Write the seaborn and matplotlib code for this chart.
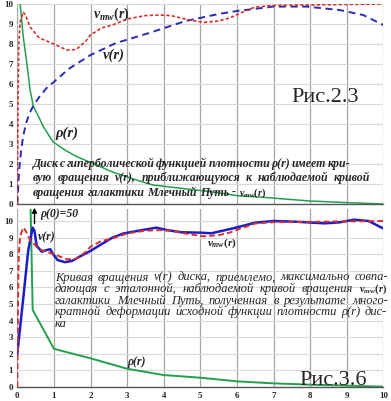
import numpy as np
import matplotlib
matplotlib.use("Agg")
import matplotlib.pyplot as plt
import seaborn as sns

# observed Milky Way rotation curve v_mw(r) (same reference curve in both panels)
r_mw = [0, 0.02, 0.04, 0.08, 0.16, 0.22, 0.35, 0.6, 1.0, 1.35, 1.6, 1.85, 2.0, 2.3,
        2.6, 3.0, 3.5, 3.9, 4.2, 4.7, 5.1, 5.5, 5.8, 6.1, 6.5, 7.0, 8.0, 9.0, 10.0]
v_mw = [0, 5.0, 8.0, 9.1, 9.6, 9.45, 8.85, 8.3, 8.0, 7.7, 7.72, 8.1, 8.45, 8.8,
        8.95, 9.25, 9.42, 9.45, 9.42, 9.2, 9.08, 9.15, 9.3, 9.55, 9.85, 9.93, 9.95, 9.98, 10.0]

# Fig 2.3: hyperbolic density disk
r_v1 = [0, 0.05, 0.1, 0.16, 0.25, 0.35, 0.45, 0.6, 0.8, 1.0, 1.4, 2.0, 2.7, 3.6,
        4.6, 5.5, 6.0, 7.0, 7.9, 8.8, 9.45, 10.0]
v_1 = [0, 1.7, 2.6, 3.4, 4.1, 4.6, 4.95, 5.35, 5.8, 6.1, 6.75, 7.45, 8.05, 8.55,
       9.15, 9.5, 9.65, 9.87, 9.87, 9.7, 9.45, 8.95]
r_rho1 = [0.03, 0.07, 0.16, 0.26, 0.35, 0.44, 0.6, 0.71, 0.98, 1.3, 1.62, 2.17, 2.6,
          3.17, 3.7, 4.5, 5.26, 6.08, 6.63, 7.3, 8.0, 9.0, 10.0]
rho_1 = [12.0, 10.2, 8.4, 7.05, 5.7, 4.87, 4.3, 3.87, 3.1, 2.7, 2.37, 1.95, 1.6,
         1.25, 0.95, 0.78, 0.62, 0.4, 0.35, 0.25, 0.15, 0.07, 0.0]

# Fig 3.6: deformed density disk
r_v2 = [0, 0.16, 0.3, 0.42, 0.47, 0.53, 0.67, 0.8, 0.9, 0.98, 1.1, 1.3, 1.5, 1.7,
        2.0, 2.26, 2.6, 2.9, 3.4, 3.8, 4.1, 4.5, 5.0, 5.3, 5.9, 6.5, 7.0, 7.6,
        8.4, 8.8, 9.2, 9.6, 10.0]
v_2 = [2.0, 5.3, 8.25, 9.6, 9.4, 8.5, 8.15, 8.25, 8.3, 8.0, 7.65, 7.52, 7.6, 7.85,
       8.2, 8.55, 9.0, 9.25, 9.45, 9.6, 9.45, 9.32, 9.3, 9.26, 9.56, 9.9, 10.0, 9.96,
       9.86, 9.92, 10.08, 10.0, 9.55]
r_rho2 = [0, 0.42, 1, 2, 3, 4, 5, 6, 7, 8, 9, 10]
rho_2 = [50, 4.65, 2.3, 1.73, 1.1, 0.72, 0.56, 0.34, 0.22, 0.14, 0.08, 0.02]

text_23 = ["Диск с гиперболической функцией плотности ρ(r) имеет кри-",
           "вую вращения v(r), приближающуюся к наблюдаемой кривой",
           "вращения галактики Млечный Путь - $v_{mw}(r)$"]
text_36 = ["Кривая вращения v(r) диска, приемлемо, максимально совпа-",
           "дающая с эталонной, наблюдаемой кривой вращения $v_{mw}(r)$",
           "галактики Млечный Путь, полученная в результате много-",
           "кратной деформации исходной функции плотности ρ(r) дис-",
           "ка"]

RED = "#d8302c"
BLUE_D = "#2c2cb4"
BLUE = "#1c1cc8"
GREEN = "#22a04e"

sns.set_style("white")
plt.rcParams["font.family"] = ["Liberation Serif", "DejaVu Serif"]
plt.rcParams["mathtext.fontset"] = "custom"
plt.rcParams["mathtext.it"] = "Liberation Serif:italic:bold"
plt.rcParams["mathtext.rm"] = "Liberation Serif:bold"
plt.rcParams["mathtext.bf"] = "Liberation Serif:bold"

W, H = 391, 401
fig = plt.figure(figsize=(W / 100, H / 100), dpi=100)


def px_axes(x0, x1, y_top, y_bot):
    return fig.add_axes([x0 / W, 1 - y_bot / H, (x1 - x0) / W, (y_bot - y_top) / H])


ax1 = px_axes(17.3, 383.3, 4, 204)
ax2 = px_axes(17.3, 383.3, 209.4, 387)


def style(ax, ytop):
    ax.set_xlim(0, 10)
    ax.set_ylim(0, ytop)
    ax.set_xticks(range(11))
    ax.set_yticks(range(11))
    ax.grid(axis="y", color="#d9d9d9", lw=0.8)
    ax.grid(axis="x", color="#a6a6a6", lw=0.9)
    for s in ["top", "right", "left"]:
        ax.spines[s].set_visible(False)
    ax.spines["bottom"].set_color("#555555")
    ax.spines["bottom"].set_linewidth(1.0)
    ax.tick_params(axis="x", length=3, width=0.8, color="#555555", pad=0.5)
    ax.tick_params(axis="y", length=0, pad=3)
    for lab in ax.get_xticklabels() + ax.get_yticklabels():
        lab.set_fontsize(6.5)
        lab.set_fontweight("bold")
    ax.set_xlabel("")
    ax.set_ylabel("")


# top panel
sns.lineplot(x=r_rho1, y=rho_1, ax=ax1, color=GREEN, lw=1.1, sort=False)
sns.lineplot(x=r_v1, y=v_1, ax=ax1, color=BLUE_D, lw=1.4,
             linestyle=(0, (3.6, 2.4)), sort=False)
sns.lineplot(x=r_mw, y=v_mw, ax=ax1, color=RED, lw=1.2,
             linestyle=(0, (2.0, 1.3)), sort=False)
style(ax1, 10)
ax1.tick_params(axis="x", labelbottom=False)

# bottom panel
sns.lineplot(x=r_rho2, y=rho_2, ax=ax2, color=GREEN, lw=1.4, sort=False)
sns.lineplot(x=r_v2, y=v_2, ax=ax2, color=BLUE, lw=1.8, sort=False)
sns.lineplot(x=r_mw, y=v_mw, ax=ax2, color=RED, lw=1.4,
             linestyle=(0, (3.0, 1.6)), sort=False)
style(ax2, 10.7)

lab = dict(fontstyle="italic", fontweight="bold", va="center", ha="left")
ax1.text(2.07, 9.5, "$v_{mw}(r)$", fontsize=10, **lab)
ax1.text(2.34, 7.45, "v(r)", fontsize=10.5, **lab)
ax1.text(1.03, 3.55, "ρ(r)", fontsize=10.5, **lab)
ax1.text(7.5, 5.35, "Рис.2.3", fontsize=16, va="center", ha="left")

ax2.text(0.57, 9.04, "v(r)", fontsize=8.5, **lab)
ax2.text(5.18, 8.67, "$v_{mw}(r)$", fontsize=8, **lab)
ax2.text(3.0, 1.5, "ρ(r)", fontsize=8.5, **lab)
ax2.text(0.62, 10.4, "ρ(0)=50", fontsize=8.5, **lab)
ax2.annotate("", xy=(0.47, 10.8), xytext=(0.47, 9.85), annotation_clip=False,
             arrowprops=dict(arrowstyle="-|>", color="black", lw=1.0,
                             mutation_scale=7, shrinkA=0, shrinkB=0))
ax2.text(7.72, 0.42, "Рис.3.6", fontsize=16, va="center", ha="left")

# justified paragraphs
renderer = fig.canvas.get_renderer()


def paragraph(lines, x0, ends, ys, weight, size):
    for line, x1, y in zip(lines, ends, ys):
        words = line.split(" ")
        ts = [fig.text(0, 1 - y / H, w, fontsize=size * (0.85 if w.startswith("$") else 1),
                       fontstyle="italic", fontweight=weight, va="baseline", ha="left")
              for w in words]
        ws = [t.get_window_extent(renderer).width for t in ts]
        if x1 is None or len(words) == 1:
            gap = 3.0
        else:
            gap = (x1 - x0 - sum(ws)) / (len(words) - 1)
        x = x0
        for t, w in zip(ts, ws):
            t.set_x(x / W)
            x += w + gap


paragraph(text_23, 33, [350, 370, None], [167, 181, 196], "bold", 8.6)
paragraph(text_36, 55, [388, 387, 388, 387, None],
          [280.5, 292, 303.7, 315.3, 327], "normal", 9.0)

fig.savefig("out.png", dpi=100)
